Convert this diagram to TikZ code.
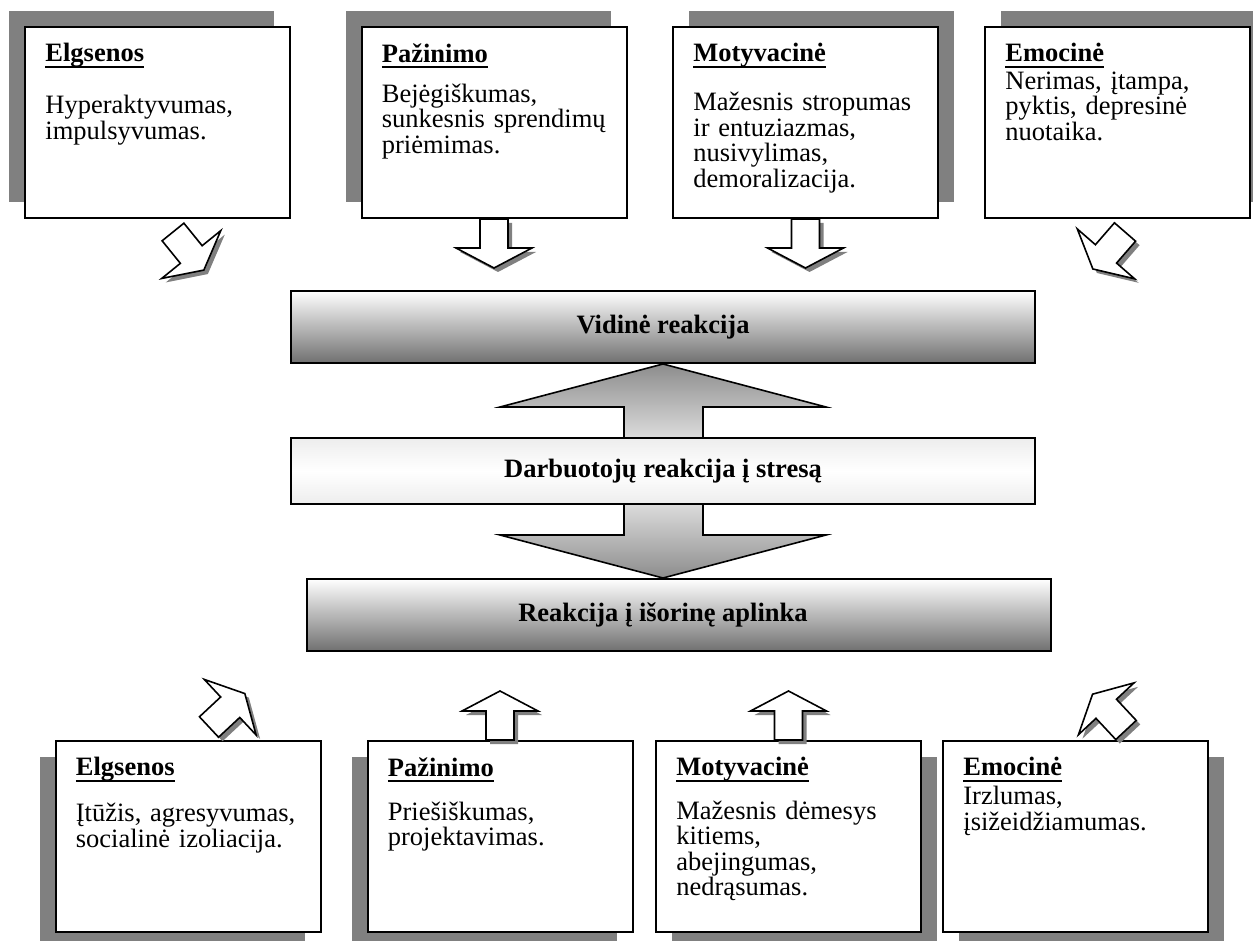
\documentclass[tikz,border=0pt]{standalone}
\usepackage{fontspec}
\setmainfont{Liberation Serif}
\usetikzlibrary{calc,shadows}
\definecolor{shadegray}{RGB}{128,128,128}
\definecolor{bardark}{RGB}{112,112,112}

\newsavebox{\ttlbox}
\newcommand{\ulttl}[1]{\sbox{\ttlbox}{\textbf{#1}}\rlap{\rule[-3.1pt]{\wd\ttlbox}{1.2pt}}\usebox{\ttlbox}}
\newcommand{\cardtxt}[3]{\baselineskip=12.75pt\lineskiplimit=-20pt\relax
  \strut\ulttl{#1}\par\vspace{#2}#3}

\tikzset{
  blkarr/.pic={
    \fill[shadegray, shift={(4,4)}, rotate=#1]
      (0,-14) -- (29,-14) -- (29,-38) -- (49,0) -- (29,38) -- (29,14) -- (0,14) -- cycle;
    \draw[fill=white, line width=0.8pt, line join=miter, rotate=#1]
      (0,-14) -- (29,-14) -- (29,-38) -- (49,0) -- (29,38) -- (29,14) -- (0,14) -- cycle;
  }
}

\begin{document}
\begin{tikzpicture}[x=0.5pt, y=-0.5pt,
    card/.style={draw, line width=1pt, fill=white, minimum width=132.5pt,
      minimum height=95.5pt, inner sep=0pt},
    shnw/.style={general shadow={draw=none, fill=shadegray, shadow xshift=-8pt, shadow yshift=8pt}},
    shne/.style={general shadow={draw=none, fill=shadegray, shadow xshift=8pt, shadow yshift=8pt}},
    shsw/.style={general shadow={draw=none, fill=shadegray, shadow xshift=-8pt, shadow yshift=-8pt}},
    shse/.style={general shadow={draw=none, fill=shadegray, shadow xshift=8pt, shadow yshift=-8pt}},
    ctext/.style={anchor=north west, inner sep=0pt, text width=124pt, align=left,
      font=\fontsize{13.25}{12.75}\selectfont},
    bar/.style={draw, line width=1pt, minimum width=372pt, inner sep=0pt},
    bartext/.style={inner sep=0pt, font=\fontsize{13.25}{12.75}\selectfont\bfseries},
    dblarr/.style={draw, line width=0.8pt, top color=shadegray!90, bottom color=shadegray!90,
      middle color=white}
  ]
  \useasboundingbox (0,0) rectangle (1253,941);

  % top row
  \node[card, shnw] (t1) at (157.5,122.5) {};
  \node[card, shnw] (t2) at (494,122.5) {};
  \node[card, shne] (t3) at (805.5,122.5) {};
  \node[card, shne] (t4) at (1117.5,122.5) {};
  \node[ctext] (t1txt) at ($(t1.north west)+(21,17)$)
    {\cardtxt{Elgsenos}{13.25pt}{Hyperaktyvumas,\\impulsyvumas.}};
  \node[ctext] (t2txt) at ($(t2.north west)+(21,17)$)
    {\cardtxt{Pažinimo}{7.25pt}{Bejėgiškumas,\\sunkesnis sprendimų\\priėmimas.}};
  \node[ctext] (t3txt) at ($(t3.north west)+(21,17)$)
    {\cardtxt{Motyvacinė}{11.75pt}{Mažesnis stropumas\\ir entuziazmas,\\nusivylimas,\\demoralizacija.}};
  \node[ctext] (t4txt) at ($(t4.north west)+(21,17)$)
    {\cardtxt{Emocinė}{1pt}{Nerimas, įtampa,\\pyktis, depresinė\\nuotaika.}};

  \pic at ($(t1.south)+(15.5,13)$) {blkarr=-51};
  \pic at (t2.south) {blkarr=-90};
  \pic at (t3.south) {blkarr=-90};
  \pic at ($(t4.south)+(7.5,13)$) {blkarr=-131};

  % middle
  \node[bar, minimum height=36pt, top color=white, bottom color=bardark] (vid) at (663,327) {};
  \node[bar, minimum height=36pt, top color=white, bottom color=bardark] (reak) at (679,615) {};
  \draw[dblarr] (vid.south) -- (826,407) -- (703,407) -- (703,535) -- (826,535)
    -- (vid.south |- reak.north) -- (500,535) -- (624,535) -- (624,407) -- (500,407) -- cycle;
  \node[bar, minimum height=33pt, top color=black!7, bottom color=black!7, middle color=white]
    (darb) at (663,471) {};
  \node[bartext] (vidtxt) at (vid.center) {Vidinė reakcija};
  \node[bartext] (darbtxt) at (darb.center) {Darbuotojų reakcija į stresą};
  \node[bartext] (reaktxt) at (663,615) {Reakcija į išorinę aplinka};

  % bottom row
  \node[card, shsw] (b1) at (188,836.5) {};
  \node[card, shsw] (b2) at (500,836.5) {};
  \node[card, shse] (b3) at (788.5,836.5) {};
  \node[card, shse] (b4) at (1075.5,836.5) {};
  \node[ctext] (b1txt) at ($(b1.north west)+(21,17)$)
    {\cardtxt{Elgsenos}{10.25pt}{Įtūžis, agresyvumas,\\socialinė izoliacija.}};
  \node[ctext] (b2txt) at ($(b2.north west)+(21,17)$)
    {\cardtxt{Pažinimo}{9.25pt}{Priešiškumas,\\projektavimas.}};
  \node[ctext] (b3txt) at ($(b3.north west)+(21,17)$)
    {\cardtxt{Motyvacinė}{9pt}{Mažesnis dėmesys\\kitiems,\\abejingumas,\\nedrąsumas.}};
  \node[ctext] (b4txt) at ($(b4.north west)+(21,17)$)
    {\cardtxt{Emocinė}{1.75pt}{Irzlumas,\\įsižeidžiamumas.}};

  \pic at ($(b1.north)+(21,-13)$) {blkarr=43};
  \pic at (b2.north) {blkarr=90};
  \pic at (b3.north) {blkarr=90};
  \pic at ($(b4.north)+(50.5,-10)$) {blkarr=133};
\end{tikzpicture}
\end{document}
